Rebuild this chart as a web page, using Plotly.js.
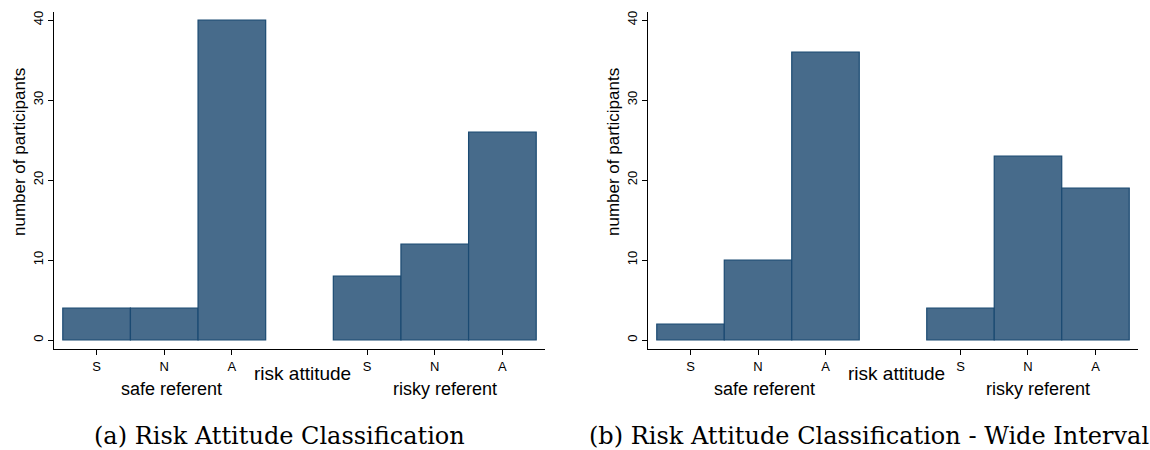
<!DOCTYPE html>
<html>
<head>
<meta charset="utf-8">
<script src="https://cdn.plot.ly/plotly-3.0.1.min.js"></script>
<style>html,body{margin:0;padding:0;background:#fff;}#chart{width:1150px;height:450px;}</style>
</head>
<body>
<div id="chart"></div>
<script>
// ---- data ----
const categories = ["S", "N", "A"];
const groupLabels = ["safe referent", "risky referent"];
const panelA_safe = [4, 4, 40];
const panelA_risky = [8, 12, 26];
const panelB_safe = [2, 10, 36];
const panelB_risky = [4, 23, 19];
const yTicks = [0, 10, 20, 30, 40];
const axisTitleX = "risk attitude";
const axisTitleY = "number of participants";
const captions = ["(a) Risk Attitude Classification", "(b) Risk Attitude Classification - Wide Interval"];

// ---- layout helpers ----
const W = 1150, H = 450;
const safePos = categories.map((c, i) => i + 1);
const riskyPos = categories.map((c, i) => i + 5);
const allPos = safePos.concat(riskyPos);
const allText = categories.concat(categories);

const fill = "#476b8b";
const edge = "#1b4a72";

function barTrace(vals, xa, ya) {
  return {
    type: "bar",
    x: allPos,
    y: vals,
    width: 1,
    xaxis: xa, yaxis: ya,
    marker: {color: fill, line: {color: edge, width: 1.2}},
    hoverinfo: "skip",
    showlegend: false
  };
}

const data = [
  barTrace(panelA_safe.concat(panelA_risky), "x", "y"),
  barTrace(panelB_safe.concat(panelB_risky), "x2", "y2")
];

const yDom = [1 - 349 / H, 1 - 12 / H];
const font = {family: "Liberation Sans, Arial, sans-serif", color: "#000"};

function xAxis(d0, d1, anchor) {
  return {
    domain: [d0 / W, d1 / W], anchor: anchor,
    range: [0.37, 7.63],
    tickmode: "array", tickvals: allPos, ticktext: allText,
    ticks: "outside", ticklen: 5, tickcolor: "#000", tickwidth: 1,
    showline: true, linecolor: "#000", linewidth: 1,
    showgrid: false, zeroline: false,
    tickfont: {family: font.family, size: 13, color: "#000"},
    fixedrange: true
  };
}
function yAxis(anchor) {
  return {
    domain: yDom, anchor: anchor,
    range: [-1.125, 41],
    tickmode: "array", tickvals: yTicks,
    ticks: "outside", ticklen: 5, tickcolor: "#000", tickwidth: 1,
    tickangle: -90,
    showline: true, linecolor: "#000", linewidth: 1,
    showgrid: false, zeroline: false,
    tickfont: {family: font.family, size: 13, color: "#000"},
    fixedrange: true
  };
}

const annotations = [];
function panelAnn(xref, yTitleX) {
  annotations.push({xref: "paper", yref: "paper", x: yTitleX / W, y: 1 - 152 / H, text: axisTitleY,
    textangle: -90, showarrow: false, font: {family: font.family, size: 17, color: "#000"},
    xanchor: "center", yanchor: "middle"});
  annotations.push({xref: xref, yref: "paper", x: 4.05, y: 1 - 373 / H, text: axisTitleX,
    showarrow: false, font: {family: font.family, size: 19, color: "#000"}, xanchor: "center", yanchor: "middle"});
  annotations.push({xref: xref, yref: "paper", x: 2.1, y: 1 - 389 / H, text: groupLabels[0],
    showarrow: false, font: {family: font.family, size: 18, color: "#000"}, xanchor: "center", yanchor: "middle"});
  annotations.push({xref: xref, yref: "paper", x: 6.15, y: 1 - 389 / H, text: groupLabels[1],
    showarrow: false, font: {family: font.family, size: 18, color: "#000"}, xanchor: "center", yanchor: "middle"});
}
panelAnn("x", 20);
panelAnn("x2", 614);
const capFont = {family: "DejaVu Serif, serif", size: 24, color: "#000"};
annotations.push({xref: "paper", yref: "paper", x: 279 / W, y: 1 - 436 / H, text: captions[0], showarrow: false,
  font: capFont, xanchor: "center", yanchor: "middle"});
annotations.push({xref: "paper", yref: "paper", x: 869 / W, y: 1 - 436 / H, text: captions[1], showarrow: false,
  font: capFont, xanchor: "center", yanchor: "middle"});

const layout = {
  width: W, height: H,
  margin: {l: 0, r: 0, t: 0, b: 0},
  paper_bgcolor: "#fff", plot_bgcolor: "#fff",
  font: font,
  xaxis: xAxis(54, 545, "y"),
  yaxis: yAxis("x"),
  xaxis2: xAxis(648, 1138, "y2"),
  yaxis2: yAxis("x2"),
  annotations: annotations,
  bargap: 0
};

Plotly.newPlot("chart", data, layout, {displayModeBar: false, staticPlot: true});
</script>
</body>
</html>
